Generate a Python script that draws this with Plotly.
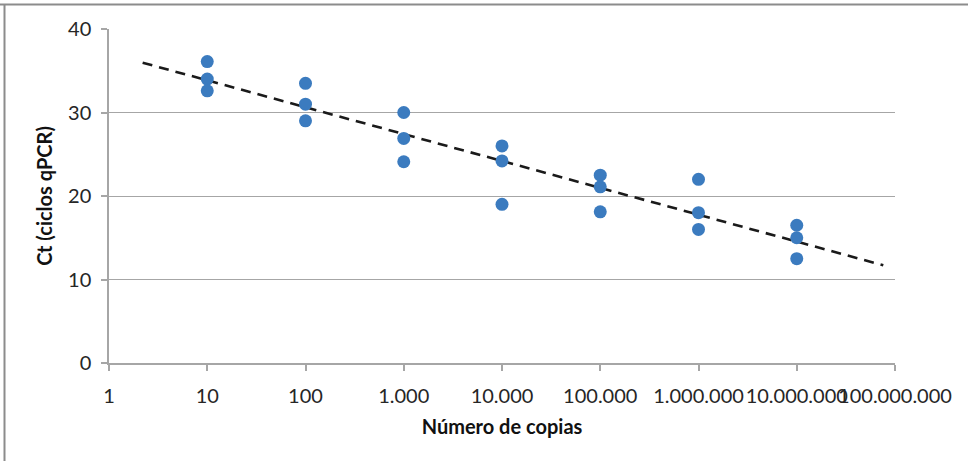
import numpy as np
import plotly.graph_objects as go

# Copy-number standards (three qPCR replicates each) and measured Ct values
copias = [10, 10, 10,
          100, 100, 100,
          1000, 1000, 1000,
          10000, 10000, 10000,
          100000, 100000, 100000,
          1000000, 1000000, 1000000,
          10000000, 10000000, 10000000]
ct = [36.1, 34.0, 32.6,
      33.5, 31.0, 29.0,
      30.0, 26.9, 24.1,
      26.0, 24.2, 19.0,
      22.5, 21.1, 18.1,
      22.0, 18.0, 16.0,
      16.5, 15.0, 12.5]

# Axis ticks
x_tickvals = [1, 10, 100, 1000, 10000, 100000, 1000000, 10000000, 100000000]
x_ticktext = ["1", "10", "100", "1.000", "10.000", "100.000", "1.000.000",
              "10.000.000", "100.000.000"]
y_tickvals = [0, 10, 20, 30, 40]

# Logarithmic trendline (least squares on log10 of copies), extended both ways
trend_start, trend_end = 2.2, 7.6e7
slope, intercept = np.polyfit(np.log10(copias), ct, 1)
trend_x = np.logspace(np.log10(trend_start), np.log10(trend_end), 50)
trend_y = intercept + slope * np.log10(trend_x)

fig = go.Figure()
fig.add_trace(go.Scatter(
    x=trend_x, y=trend_y, mode="lines",
    line=dict(color="#1a1a1a", width=2.6, dash="10px,7px"),
    hoverinfo="skip", showlegend=False,
))
fig.add_trace(go.Scatter(
    x=copias, y=ct, mode="markers",
    marker=dict(color="#3b7bbf", size=13, line=dict(width=0)),
    showlegend=False,
))

axis_font = dict(family="Lato, sans-serif", size=20, color="#262626")
title_font = dict(family="Lato, sans-serif", size=20, color="#111111")

fig.update_layout(
    width=968, height=461,
    margin=dict(l=109, r=73, t=29, b=98, autoexpand=False),
    paper_bgcolor="white", plot_bgcolor="white",
    xaxis=dict(
        type="log", range=[0, 8],
        tickvals=x_tickvals, ticktext=x_ticktext, tickangle=0,
        automargin=False, ticklabelstandoff=8,
        showgrid=False, zeroline=False,
        showline=True, linecolor="#a6a6a6", linewidth=1.5,
        ticks="outside", ticklen=6, tickcolor="#a6a6a6", tickwidth=1.5,
        tickfont=axis_font,
        title=dict(text="<b>Número de copias</b>", font=title_font, standoff=14),
    ),
    yaxis=dict(
        range=[0, 40], tickvals=y_tickvals, automargin=False,
        ticklabelstandoff=6,
        showgrid=True, gridcolor="#a6a6a6", gridwidth=1.3,
        zeroline=False,
        showline=True, linecolor="#a6a6a6", linewidth=1.5,
        ticks="outside", ticklen=6, tickcolor="#a6a6a6", tickwidth=1.5,
        tickfont=axis_font,
        title=dict(text="<b>Ct (ciclos qPCR)</b>", font=title_font, standoff=10),
    ),
)

# Chart frame: top and left edges
fig.add_shape(type="line", xref="paper", yref="paper",
              x0=-109 / 786, x1=1 + 73 / 786, y0=1 + 24.5 / 334, y1=1 + 24.5 / 334,
              line=dict(color="#8c8c8c", width=2))
fig.add_shape(type="line", xref="paper", yref="paper",
              x0=-104.5 / 786, x1=-104.5 / 786, y0=-98 / 334, y1=1 + 25 / 334,
              line=dict(color="#8c8c8c", width=2))

fig.write_html("out.html")
